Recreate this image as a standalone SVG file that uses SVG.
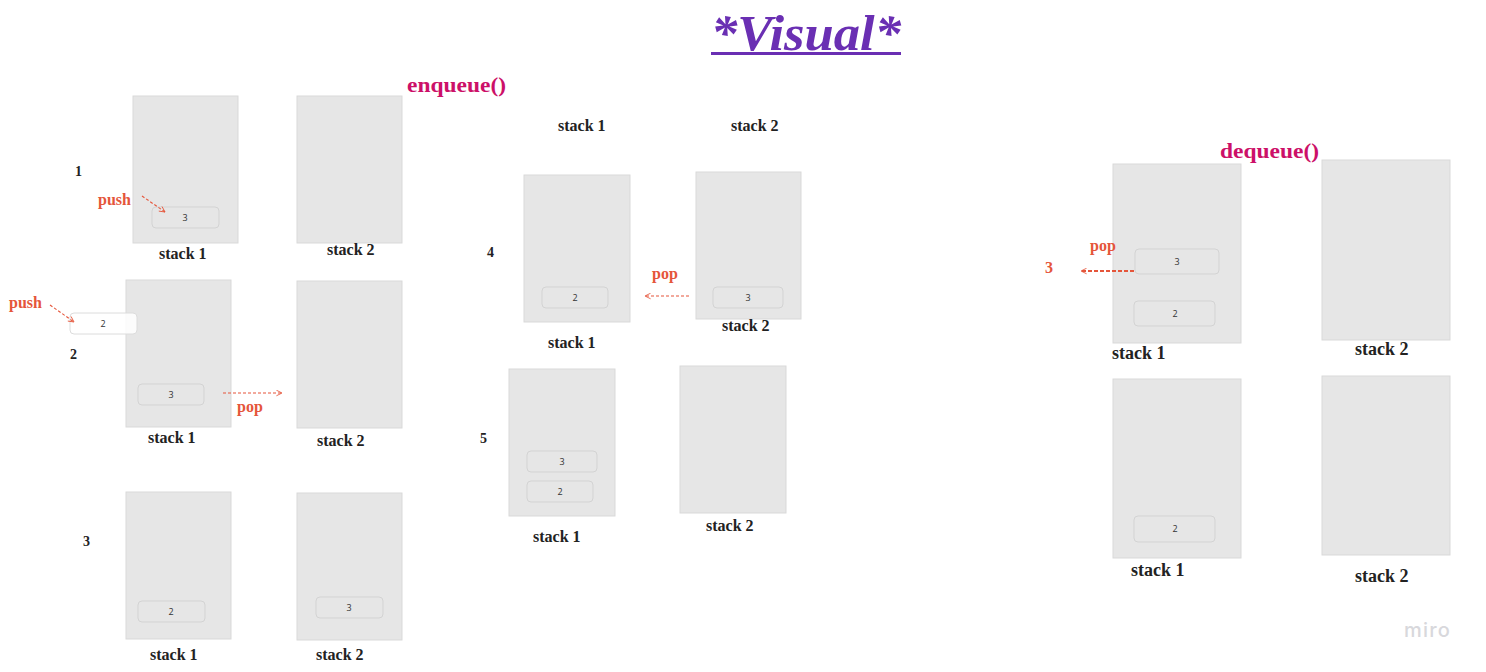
<svg xmlns="http://www.w3.org/2000/svg" width="1486" height="672" viewBox="0 0 1486 672">
<style>
.stk{fill:#e6e6e6;stroke:#d9d9d9;stroke-width:1}
.itm{fill:#e6e6e6;stroke:#d3d3d3;stroke-width:1}
.itw{fill:#ffffff;fill-opacity:0.85;stroke:#dcdcdc;stroke-width:1}
.it{font-family:"Open Sans","Liberation Sans",sans-serif;font-size:9px;fill:#333;text-anchor:middle}
.lb{font-family:"Liberation Serif","DejaVu Serif",serif;font-weight:bold;font-size:16px;fill:#222}
.lbl{font-family:"Liberation Serif","DejaVu Serif",serif;font-weight:bold;font-size:18px;fill:#222}
.num{font-family:"Liberation Serif","DejaVu Serif",serif;font-weight:bold;font-size:14px;fill:#222}
.red{font-family:"Liberation Serif","DejaVu Serif",serif;font-weight:bold;font-size:16px;fill:#e5553a}
.fn{font-family:"Liberation Serif","DejaVu Serif",serif;font-weight:bold;font-size:21px;fill:#cc1068}
.arr{fill:none;stroke:#e5553a;stroke-width:1.1;stroke-dasharray:3 2}
.arrb{fill:none;stroke:#e5553a;stroke-width:1.8;stroke-dasharray:4 2}
</style>
<defs>
<marker id="chev" viewBox="0 0 10 10" refX="9" refY="5" markerWidth="7" markerHeight="7" markerUnits="userSpaceOnUse" orient="auto">
<path d="M1,1 L9,5 L1,9" fill="none" stroke="#e5553a" stroke-width="1.2"/>
</marker>
</defs>
<rect width="1486" height="672" fill="#ffffff"/>

<g id="title">
<text x="806" y="50" text-anchor="middle" font-family="Liberation Serif,DejaVu Serif,serif" font-style="italic" font-weight="bold" font-size="50" fill="#6a2fb3" textLength="190" lengthAdjust="spacingAndGlyphs">*Visual*</text>
<rect x="711" y="52" width="190" height="3" fill="#6a2fb3"/>
</g>
<text class="fn" x="407" y="92" textLength="99" lengthAdjust="spacingAndGlyphs">enqueue()</text>
<text class="fn" x="1220" y="158" textLength="99" lengthAdjust="spacingAndGlyphs">dequeue()</text>

<!-- Step 1 -->
<g id="step1">
<text class="num" x="75" y="176">1</text>
<g id="s1-stack1"><rect class="stk" x="133" y="96" width="105" height="147"/>
<rect class="itm" x="152" y="207" width="67" height="21" rx="4"/><text class="it" x="185" y="221">3</text></g>
<g id="s1-stack2"><rect class="stk" x="297" y="96" width="105" height="147"/></g>
<text class="red" x="98" y="205">push</text>
<text class="lb" x="159" y="259">stack 1</text>
<text class="lb" x="327" y="255">stack 2</text>
</g>

<!-- Step 2 -->
<g id="step2">
<text class="red" x="9" y="308">push</text>
<text class="num" x="70" y="359">2</text>
<g id="s2-stack1"><rect class="stk" x="126" y="280" width="105" height="147"/>
<rect class="itm" x="138" y="384" width="66" height="21" rx="4"/><text class="it" x="171" y="398">3</text></g>
<g id="s2-item2"><rect class="itw" x="70" y="313" width="67" height="21" rx="4"/><text class="it" x="103" y="327">2</text></g>
<g id="s2-stack2"><rect class="stk" x="297" y="281" width="105" height="147"/></g>
<text class="red" x="237" y="412">pop</text>
<text class="lb" x="148" y="443">stack 1</text>
<text class="lb" x="317" y="446">stack 2</text>
</g>

<!-- Step 3 -->
<g id="step3">
<text class="num" x="83" y="546">3</text>
<g id="s3-stack1"><rect class="stk" x="126" y="492" width="105" height="147"/>
<rect class="itm" x="138" y="601" width="67" height="21" rx="4"/><text class="it" x="171" y="615">2</text></g>
<g id="s3-stack2"><rect class="stk" x="297" y="493" width="105" height="147"/>
<rect class="itm" x="316" y="597" width="67" height="21" rx="4"/><text class="it" x="349" y="611">3</text></g>
<text class="lb" x="150" y="660">stack 1</text>
<text class="lb" x="316" y="660">stack 2</text>
</g>

<!-- Step 4 -->
<g id="step4">
<text class="lb" x="558" y="131">stack 1</text>
<text class="lb" x="731" y="131">stack 2</text>
<text class="num" x="487" y="257">4</text>
<g id="s4-stack1"><rect class="stk" x="524" y="175" width="106" height="147"/>
<rect class="itm" x="542" y="287" width="66" height="21" rx="4"/><text class="it" x="575" y="301">2</text></g>
<g id="s4-stack2"><rect class="stk" x="696" y="172" width="105" height="147"/>
<rect class="itm" x="713" y="287" width="70" height="21" rx="4"/><text class="it" x="748" y="301">3</text></g>
<text class="red" x="652" y="279">pop</text>
<text class="lb" x="548" y="348">stack 1</text>
<text class="lb" x="722" y="331">stack 2</text>
</g>

<!-- Step 5 -->
<g id="step5">
<text class="num" x="480" y="443">5</text>
<g id="s5-stack1"><rect class="stk" x="509" y="369" width="106" height="147"/>
<rect class="itm" x="527" y="451" width="70" height="21" rx="4"/><text class="it" x="562" y="465">3</text>
<rect class="itm" x="527" y="481" width="66" height="21" rx="4"/><text class="it" x="560" y="495">2</text></g>
<g id="s5-stack2"><rect class="stk" x="680" y="366" width="106" height="147"/></g>
<text class="lb" x="533" y="542">stack 1</text>
<text class="lb" x="706" y="531">stack 2</text>
</g>

<!-- Dequeue A -->
<g id="deq1">
<g id="d1-stack1"><rect class="stk" x="1113" y="164" width="128" height="179"/>
<rect class="itm" x="1135" y="249" width="84" height="25" rx="4"/><text class="it" x="1177" y="265" font-size="10">3</text>
<rect class="itm" x="1134" y="301" width="81" height="25" rx="4"/><text class="it" x="1175" y="317" font-size="10">2</text></g>
<g id="d1-stack2"><rect class="stk" x="1322" y="160" width="128" height="180"/></g>
<text class="red" x="1090" y="251" font-size="19">pop</text>
<text class="red" x="1045" y="273" font-size="19">3</text>
<text class="lbl" x="1112" y="359">stack 1</text>
<text class="lbl" x="1355" y="355">stack 2</text>
</g>

<!-- Dequeue B -->
<g id="deq2">
<g id="d2-stack1"><rect class="stk" x="1113" y="379" width="128" height="179"/>
<rect class="itm" x="1134" y="516" width="81" height="26" rx="4"/><text class="it" x="1175" y="532" font-size="10">2</text></g>
<g id="d2-stack2"><rect class="stk" x="1322" y="376" width="128" height="179"/></g>
<text class="lbl" x="1131" y="576">stack 1</text>
<text class="lbl" x="1355" y="582">stack 2</text>
</g>

<g id="connectors">
<path class="arr" d="M142,196 L165,212" marker-end="url(#chev)"/>
<path class="arr" d="M50,305 L74,322" marker-end="url(#chev)"/>
<path class="arr" d="M223,393 L282,393" marker-end="url(#chev)"/>
<path class="arr" d="M689,296 L645,296" marker-end="url(#chev)"/>
<path class="arrb" d="M1134,271 L1081,271" marker-end="url(#chev)"/>
</g>

<text x="1404" y="637" font-family="Inter,'Open Sans',sans-serif" font-size="20" font-weight="500" fill="#d8d8dc" letter-spacing="1.2">miro</text>
</svg>
